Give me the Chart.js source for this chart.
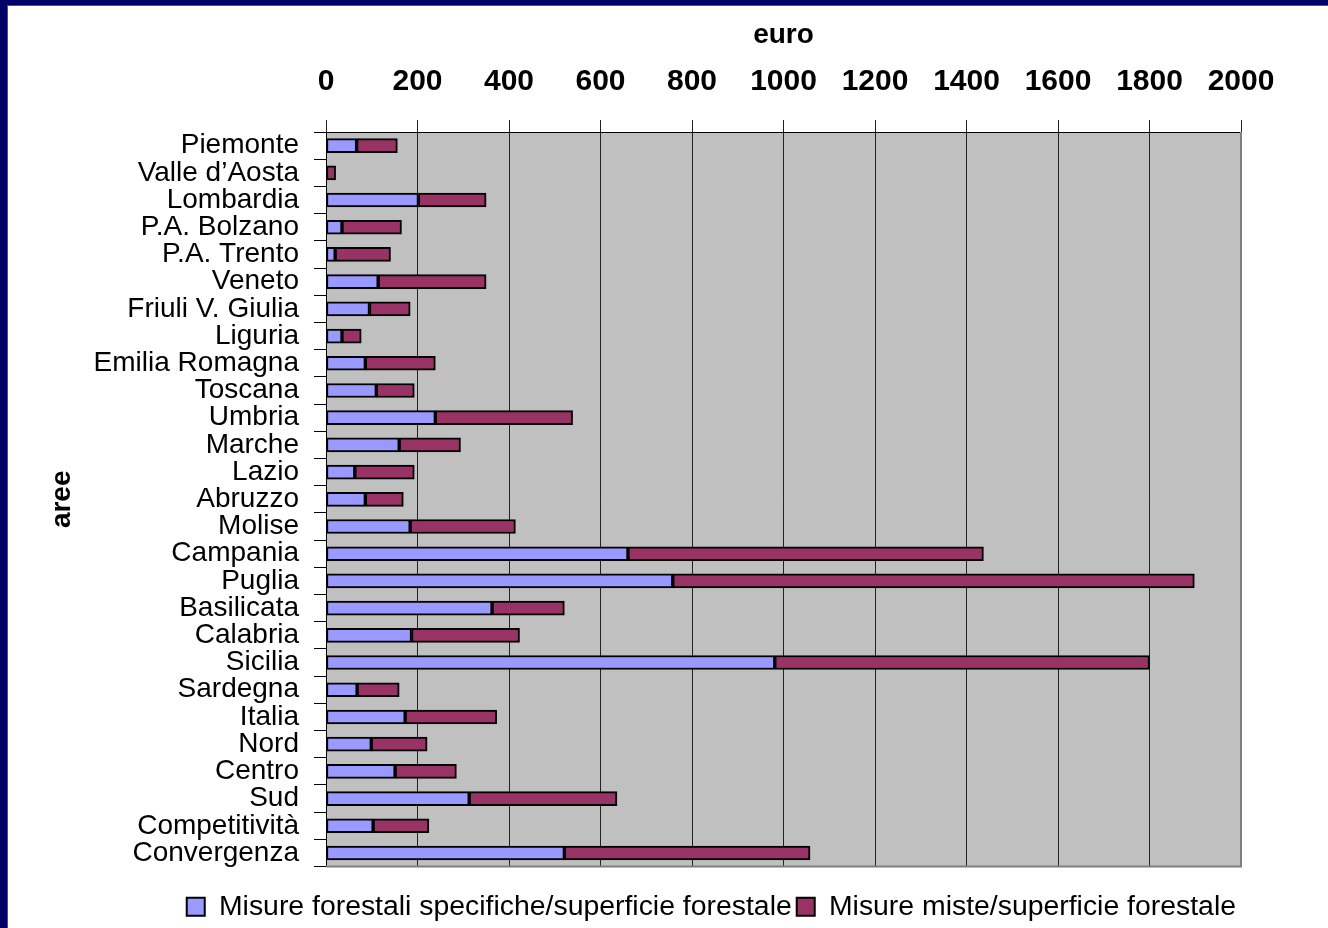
<!DOCTYPE html>
<html>
<head>
<meta charset="utf-8">
<script src="https://cdn.jsdelivr.net/npm/chart.js@4/dist/chart.umd.min.js"></script>
<style>
  html, body { margin: 0; padding: 0; background: #000066; width: 1328px; height: 928px; overflow: hidden; }
  #frame { position: absolute; left: 7px; top: 5px; width: 1321px; height: 923px; background: #ffffff;
           border-left: 1px solid #555; border-top: 1px solid #555; box-sizing: border-box; }
  #c { position: absolute; left: 0px; top: 0px; }
</style>
</head>
<body>
<div id="frame"><canvas id="c" width="1320" height="922"></canvas></div>
<script>
const categories = ["Piemonte", "Valle d\u2019Aosta", "Lombardia", "P.A. Bolzano", "P.A. Trento", "Veneto",
  "Friuli V. Giulia", "Liguria", "Emilia Romagna", "Toscana", "Umbria", "Marche", "Lazio", "Abruzzo",
  "Molise", "Campania", "Puglia", "Basilicata", "Calabria", "Sicilia", "Sardegna", "Italia", "Nord",
  "Centro", "Sud", "Competitivit\u00e0", "Convergenza"];
const forestaliSpecifiche = [67, 0, 202, 35, 20, 114, 95, 35, 86, 110, 239, 160, 63, 86, 184, 660, 758,
  363, 187, 981, 68, 173, 99, 151, 313, 103, 521];
const misureMiste = [89, 21, 148, 130, 121, 236, 89, 42, 153, 83, 300, 134, 130, 83, 230, 777, 1140,
  158, 236, 819, 92, 200, 122, 134, 323, 122, 537];
const seriesNames = ["Misure forestali specifiche/superficie forestale", "Misure miste/superficie forestale"];
const xMin = 0, xMax = 2000, xStep = 200;

const FONT = "'Liberation Sans', Arial, sans-serif";

const plotBg = {
  id: 'plotBg',
  beforeDraw(chart) {
    const {ctx, chartArea: a} = chart;
    ctx.save();
    ctx.fillStyle = '#c0c0c0';
    ctx.fillRect(a.left, a.top, a.right - a.left, a.bottom - a.top);
    ctx.restore();
  },
  afterDraw(chart) {
    const {ctx, chartArea: a} = chart;
    ctx.save();
    ctx.strokeStyle = '#808080';
    ctx.lineWidth = 2;
    ctx.beginPath();
    ctx.moveTo(a.right, a.top);
    ctx.lineTo(a.right, a.bottom);
    ctx.lineTo(a.left, a.bottom);
    ctx.stroke();
    ctx.restore();
  }
};

new Chart(document.getElementById('c'), {
  type: 'bar',
  data: {
    labels: categories,
    datasets: [
      { label: seriesNames[0], data: forestaliSpecifiche, backgroundColor: '#9999ff', borderColor: '#000000',
        borderWidth: 2, borderSkipped: false, barThickness: 14 },
      { label: seriesNames[1], data: misureMiste, backgroundColor: '#993366', borderColor: '#000000',
        borderWidth: 2, borderSkipped: false, barThickness: 14 }
    ]
  },
  options: {
    indexAxis: 'y',
    responsive: false,
    animation: false,
    devicePixelRatio: 1,
    layout: { padding: { left: 60, right: 87, top: 0, bottom: -3 } },
    plugins: {
      tooltip: { enabled: false },
      legend: {
        position: 'bottom',
        align: 'end',
        title: { display: true, text: '', font: { size: 10, lineHeight: 1 }, padding: { top: 11, bottom: 0 } },
        labels: {
          boxWidth: 18, boxHeight: 18, padding: 5, color: '#000',
          font: { family: FONT, size: 28.4 }
        }
      }
    },
    scales: {
      x: {
        position: 'top',
        stacked: true,
        min: xMin, max: xMax,
        afterFit(scale) { scale.height = 126; },
        ticks: { stepSize: xStep, color: '#000', padding: 20, font: { family: FONT, size: 30, weight: 'bold' },
                 maxRotation: 0, callback: (v) => String(v) },
        grid: { color: '#222', lineWidth: 1, tickLength: 12, drawOnChartArea: true },
        border: { color: '#000', width: 1 },
        title: { display: true, text: 'euro', color: '#000', font: { family: FONT, size: 28, weight: 'bold' }, padding: { top: 12, bottom: 0 } }
      },
      y: {
        stacked: true,
        afterFit(scale) { scale.width = 258; },
        ticks: { autoSkip: false, color: '#000', padding: 15, font: { family: FONT, size: 28 } },
        grid: { drawOnChartArea: false, drawTicks: true, tickLength: 12, color: '#000', lineWidth: 1 },
        border: { color: '#000', width: 1 },
        title: { display: true, text: 'aree', color: '#000', font: { family: FONT, size: 28, weight: 'bold' }, padding: { top: -23, bottom: 0 } }
      }
    }
  },
  plugins: [plotBg]
});
</script>
</body>
</html>
